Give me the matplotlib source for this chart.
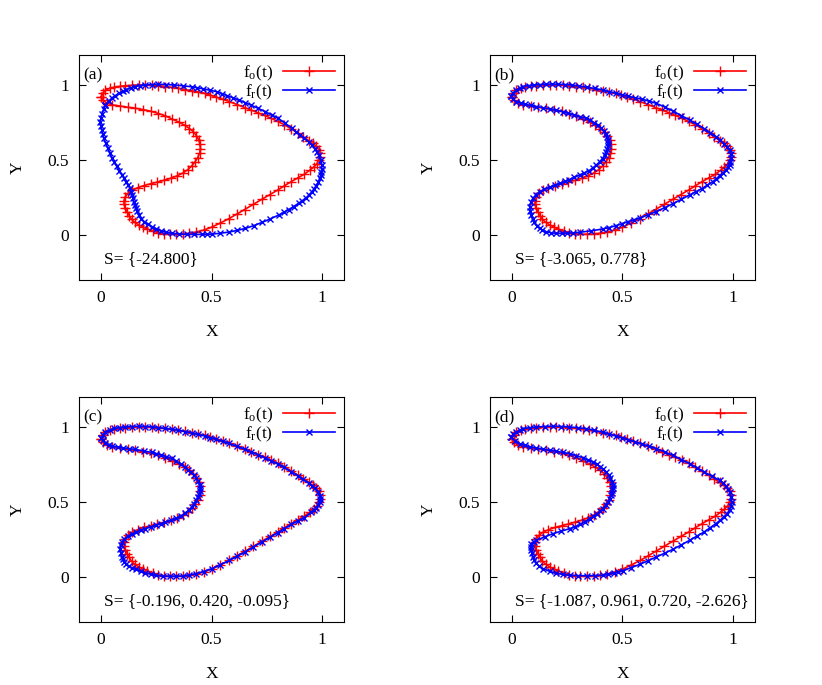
import matplotlib
matplotlib.use("Agg")
import matplotlib.pyplot as plt

plt.rcParams['font.family'] = ['Liberation Serif', 'DejaVu Serif']
plt.rcParams['mathtext.fontset'] = 'custom'
plt.rcParams['mathtext.rm'] = 'Liberation Serif'
plt.rcParams['mathtext.it'] = 'Liberation Serif:italic'

# original contour f_o(t), the same in every panel (x, y)
orig = [(0.000, 0.920), (0.008, 0.945), (0.020, 0.965), (0.040, 0.978), (0.060, 0.986),
        (0.085, 0.991), (0.110, 0.995), (0.140, 0.998), (0.170, 1.000), (0.200, 1.000),
        (0.230, 1.000), (0.260, 0.996), (0.290, 0.990), (0.320, 0.984), (0.350, 0.978),
        (0.380, 0.970), (0.410, 0.962), (0.440, 0.953), (0.470, 0.944), (0.495, 0.932),
        (0.520, 0.920), (0.550, 0.905), (0.580, 0.890), (0.615, 0.870), (0.650, 0.850),
        (0.680, 0.833), (0.710, 0.815), (0.740, 0.797), (0.770, 0.778), (0.800, 0.757),
        (0.830, 0.735), (0.860, 0.708), (0.890, 0.680), (0.915, 0.655), (0.940, 0.630),
        (0.958, 0.612), (0.972, 0.595), (0.985, 0.570), (0.992, 0.545), (0.990, 0.520),
        (0.985, 0.500), (0.977, 0.475), (0.962, 0.452), (0.945, 0.432), (0.920, 0.405),
        (0.890, 0.380), (0.860, 0.355), (0.830, 0.328), (0.800, 0.300), (0.765, 0.270),
        (0.730, 0.240), (0.690, 0.205), (0.650, 0.170), (0.615, 0.140), (0.580, 0.110),
        (0.540, 0.080), (0.500, 0.052), (0.465, 0.033), (0.430, 0.020), (0.400, 0.012),
        (0.370, 0.007), (0.340, 0.005), (0.310, 0.005), (0.285, 0.008), (0.260, 0.015),
        (0.235, 0.026), (0.210, 0.040), (0.190, 0.053), (0.170, 0.068), (0.152, 0.085),
        (0.138, 0.105), (0.127, 0.130), (0.118, 0.155), (0.110, 0.180), (0.104, 0.205),
        (0.104, 0.230), (0.110, 0.255), (0.122, 0.278), (0.140, 0.298), (0.165, 0.315),
        (0.195, 0.330), (0.225, 0.342), (0.255, 0.353), (0.285, 0.365), (0.315, 0.378),
        (0.345, 0.395), (0.370, 0.413), (0.392, 0.435), (0.410, 0.460), (0.425, 0.487),
        (0.437, 0.515), (0.446, 0.545), (0.450, 0.575), (0.448, 0.605), (0.442, 0.635),
        (0.432, 0.662), (0.418, 0.688), (0.400, 0.710), (0.378, 0.732), (0.352, 0.753),
        (0.322, 0.773), (0.290, 0.795), (0.260, 0.810), (0.225, 0.825), (0.190, 0.836),
        (0.155, 0.845), (0.120, 0.852), (0.085, 0.860), (0.050, 0.868), (0.025, 0.880),
        (0.008, 0.900), (0.000, 0.920)]

# reconstructed contours f_r(t), one per panel
rec_a = [(0.020, 0.867), (0.035, 0.893), (0.050, 0.915), (0.065, 0.930), (0.080, 0.944),
         (0.098, 0.958), (0.115, 0.970), (0.135, 0.981), (0.155, 0.990), (0.178, 0.996),
         (0.200, 1.000), (0.230, 1.003), (0.260, 1.005), (0.295, 1.003), (0.330, 1.000),
         (0.370, 0.995), (0.410, 0.988), (0.435, 0.982), (0.460, 0.975), (0.493, 0.965),
         (0.525, 0.955), (0.548, 0.943), (0.570, 0.930), (0.597, 0.915), (0.623, 0.900),
         (0.652, 0.883), (0.680, 0.865), (0.712, 0.844), (0.743, 0.822), (0.772, 0.801),
         (0.800, 0.780), (0.832, 0.746), (0.864, 0.711), (0.882, 0.690), (0.900, 0.670),
         (0.920, 0.646), (0.940, 0.622), (0.955, 0.598), (0.970, 0.575), (0.978, 0.554),
         (0.985, 0.533), (0.994, 0.500), (1.000, 0.467), (0.999, 0.443), (0.998, 0.420),
         (0.995, 0.399), (0.992, 0.378), (0.984, 0.354), (0.975, 0.330), (0.965, 0.310),
         (0.955, 0.289), (0.943, 0.270), (0.930, 0.250), (0.912, 0.230), (0.894, 0.211),
         (0.872, 0.190), (0.850, 0.170), (0.827, 0.151), (0.804, 0.133), (0.767, 0.108),
         (0.730, 0.085), (0.692, 0.063), (0.653, 0.044), (0.617, 0.031), (0.580, 0.020),
         (0.540, 0.012), (0.502, 0.006), (0.480, 0.005), (0.457, 0.004), (0.423, 0.004),
         (0.390, 0.004), (0.355, 0.007), (0.320, 0.011), (0.295, 0.019), (0.270, 0.030),
         (0.250, 0.042), (0.230, 0.056), (0.212, 0.072), (0.195, 0.090), (0.182, 0.110),
         (0.170, 0.133), (0.163, 0.157), (0.157, 0.180), (0.152, 0.200), (0.148, 0.222),
         (0.144, 0.246), (0.140, 0.270), (0.137, 0.290), (0.133, 0.311), (0.124, 0.333),
         (0.115, 0.355), (0.105, 0.378), (0.095, 0.400), (0.083, 0.430), (0.070, 0.460),
         (0.060, 0.485), (0.050, 0.511), (0.040, 0.545), (0.030, 0.580), (0.021, 0.612),
         (0.012, 0.644), (0.007, 0.672), (0.003, 0.700), (0.000, 0.727), (-0.003, 0.755),
         (0.000, 0.783), (0.005, 0.810), (0.012, 0.840), (0.020, 0.867)]

rec_b = [(-0.005, 0.925), (0.005, 0.948), (0.020, 0.965), (0.035, 0.980), (0.050, 0.990),
         (0.075, 0.996), (0.100, 1.000), (0.128, 1.003), (0.155, 1.005), (0.183, 1.006),
         (0.210, 1.005), (0.240, 1.003), (0.270, 1.000), (0.305, 0.993), (0.340, 0.985),
         (0.375, 0.977), (0.410, 0.967), (0.440, 0.956), (0.470, 0.945), (0.498, 0.935),
         (0.525, 0.925), (0.558, 0.915), (0.590, 0.905), (0.622, 0.892), (0.653, 0.878),
         (0.692, 0.853), (0.730, 0.825), (0.767, 0.796), (0.804, 0.767), (0.837, 0.738),
         (0.870, 0.710), (0.897, 0.683), (0.924, 0.656), (0.943, 0.633), (0.960, 0.610),
         (0.973, 0.589), (0.985, 0.567), (0.990, 0.540), (0.992, 0.511), (0.989, 0.490),
         (0.985, 0.470), (0.978, 0.451), (0.970, 0.433), (0.955, 0.414), (0.940, 0.395),
         (0.925, 0.375), (0.910, 0.356), (0.885, 0.333), (0.860, 0.310), (0.832, 0.288),
         (0.804, 0.267), (0.767, 0.238), (0.730, 0.210), (0.692, 0.183), (0.653, 0.156),
         (0.617, 0.135), (0.580, 0.115), (0.553, 0.102), (0.525, 0.089), (0.498, 0.075),
         (0.470, 0.062), (0.440, 0.050), (0.410, 0.040), (0.358, 0.028), (0.306, 0.018),
         (0.278, 0.014), (0.250, 0.012), (0.225, 0.011), (0.200, 0.011), (0.177, 0.015),
         (0.155, 0.022), (0.138, 0.032), (0.125, 0.044), (0.111, 0.063), (0.100, 0.085),
         (0.093, 0.109), (0.088, 0.133), (0.083, 0.161), (0.080, 0.189), (0.085, 0.217),
         (0.095, 0.244), (0.108, 0.268), (0.125, 0.289), (0.147, 0.304), (0.170, 0.318),
         (0.193, 0.331), (0.216, 0.344), (0.238, 0.357), (0.260, 0.370), (0.283, 0.385),
         (0.306, 0.400), (0.328, 0.415), (0.350, 0.430), (0.367, 0.448), (0.382, 0.467),
         (0.397, 0.488), (0.410, 0.510), (0.420, 0.533), (0.427, 0.556), (0.432, 0.576),
         (0.435, 0.595), (0.435, 0.614), (0.434, 0.633), (0.430, 0.654), (0.425, 0.675),
         (0.415, 0.693), (0.404, 0.711), (0.388, 0.731), (0.370, 0.750), (0.353, 0.764),
         (0.336, 0.778), (0.308, 0.789), (0.280, 0.800), (0.255, 0.811), (0.230, 0.822),
         (0.200, 0.831), (0.170, 0.840), (0.140, 0.848), (0.110, 0.856), (0.085, 0.864),
         (0.060, 0.872), (0.040, 0.880), (0.020, 0.889), (0.005, 0.905), (-0.005, 0.925)]

rec_c = [(0.000, 0.925), (0.008, 0.948), (0.020, 0.965), (0.040, 0.980), (0.060, 0.990),
         (0.085, 0.996), (0.110, 1.000), (0.140, 1.003), (0.170, 1.005), (0.200, 1.003),
         (0.230, 1.000), (0.260, 0.995), (0.290, 0.990), (0.320, 0.984), (0.350, 0.978),
         (0.380, 0.969), (0.410, 0.960), (0.440, 0.950), (0.470, 0.940), (0.495, 0.929),
         (0.520, 0.918), (0.550, 0.904), (0.580, 0.890), (0.615, 0.871), (0.650, 0.852),
         (0.680, 0.834), (0.710, 0.815), (0.740, 0.795), (0.770, 0.775), (0.800, 0.753),
         (0.830, 0.730), (0.860, 0.703), (0.890, 0.675), (0.915, 0.650), (0.940, 0.625),
         (0.957, 0.608), (0.970, 0.590), (0.982, 0.565), (0.990, 0.540), (0.992, 0.520),
         (0.990, 0.500), (0.983, 0.480), (0.975, 0.460), (0.963, 0.445), (0.950, 0.430),
         (0.920, 0.395), (0.890, 0.372), (0.860, 0.350), (0.830, 0.323), (0.800, 0.295),
         (0.765, 0.265), (0.730, 0.235), (0.690, 0.200), (0.650, 0.165), (0.615, 0.137),
         (0.580, 0.110), (0.540, 0.082), (0.500, 0.055), (0.465, 0.036), (0.430, 0.022),
         (0.400, 0.012), (0.370, 0.006), (0.340, 0.004), (0.310, 0.004), (0.280, 0.006),
         (0.250, 0.010), (0.225, 0.018), (0.200, 0.028), (0.180, 0.038), (0.160, 0.050),
         (0.140, 0.060), (0.125, 0.070), (0.113, 0.085), (0.105, 0.100), (0.099, 0.117),
         (0.095, 0.133), (0.090, 0.160), (0.087, 0.189), (0.089, 0.212), (0.095, 0.235),
         (0.106, 0.253), (0.120, 0.270), (0.140, 0.286), (0.160, 0.300), (0.180, 0.311),
         (0.200, 0.322), (0.225, 0.334), (0.250, 0.345), (0.270, 0.355), (0.290, 0.365),
         (0.315, 0.377), (0.340, 0.390), (0.362, 0.407), (0.380, 0.425), (0.396, 0.445),
         (0.410, 0.465), (0.421, 0.487), (0.430, 0.510), (0.438, 0.530), (0.445, 0.550),
         (0.448, 0.570), (0.450, 0.590), (0.446, 0.615), (0.440, 0.640), (0.431, 0.660),
         (0.420, 0.680), (0.408, 0.698), (0.395, 0.715), (0.378, 0.735), (0.360, 0.755),
         (0.340, 0.773), (0.320, 0.790), (0.295, 0.803), (0.270, 0.815), (0.250, 0.823),
         (0.230, 0.830), (0.193, 0.840), (0.155, 0.850), (0.128, 0.855), (0.100, 0.860),
         (0.075, 0.866), (0.050, 0.872), (0.035, 0.882), (0.020, 0.895), (0.008, 0.910),
         (0.000, 0.925)]

rec_d = [(-0.005, 0.930), (0.005, 0.950), (0.020, 0.965), (0.035, 0.978), (0.050, 0.989),
         (0.080, 0.995), (0.110, 1.000), (0.148, 1.003), (0.186, 1.005), (0.223, 1.003),
         (0.260, 1.000), (0.298, 0.995), (0.336, 0.989), (0.373, 0.977), (0.410, 0.965),
         (0.440, 0.953), (0.470, 0.940), (0.498, 0.928), (0.525, 0.915), (0.558, 0.900),
         (0.590, 0.885), (0.622, 0.871), (0.653, 0.856), (0.692, 0.833), (0.730, 0.810),
         (0.767, 0.783), (0.804, 0.756), (0.837, 0.728), (0.870, 0.700), (0.905, 0.672),
         (0.940, 0.644), (0.955, 0.625), (0.970, 0.605), (0.978, 0.586), (0.985, 0.567),
         (0.991, 0.533), (0.995, 0.500), (0.991, 0.472), (0.985, 0.444), (0.973, 0.422),
         (0.960, 0.400), (0.942, 0.378), (0.924, 0.356), (0.897, 0.328), (0.870, 0.300),
         (0.837, 0.272), (0.804, 0.244), (0.767, 0.214), (0.730, 0.185), (0.692, 0.159),
         (0.653, 0.133), (0.617, 0.109), (0.580, 0.085), (0.541, 0.063), (0.502, 0.042),
         (0.481, 0.033), (0.460, 0.025), (0.436, 0.017), (0.412, 0.011), (0.376, 0.009),
         (0.340, 0.008), (0.300, 0.009), (0.261, 0.011), (0.230, 0.017), (0.200, 0.025),
         (0.170, 0.038), (0.140, 0.056), (0.124, 0.072), (0.110, 0.090), (0.101, 0.110),
         (0.095, 0.133), (0.091, 0.157), (0.088, 0.180), (0.087, 0.200), (0.088, 0.222),
         (0.098, 0.235), (0.110, 0.244), (0.148, 0.267), (0.186, 0.289), (0.224, 0.306),
         (0.261, 0.322), (0.286, 0.335), (0.310, 0.350), (0.331, 0.369), (0.351, 0.389),
         (0.368, 0.404), (0.385, 0.420), (0.399, 0.438), (0.412, 0.456), (0.424, 0.478),
         (0.435, 0.500), (0.442, 0.522), (0.449, 0.544), (0.452, 0.562), (0.455, 0.580),
         (0.456, 0.596), (0.457, 0.611), (0.452, 0.636), (0.445, 0.660), (0.437, 0.680),
         (0.427, 0.700), (0.414, 0.718), (0.400, 0.735), (0.384, 0.751), (0.367, 0.767),
         (0.344, 0.781), (0.320, 0.795), (0.291, 0.809), (0.261, 0.822), (0.231, 0.830),
         (0.200, 0.838), (0.170, 0.845), (0.140, 0.851), (0.110, 0.860), (0.080, 0.868),
         (0.058, 0.878), (0.035, 0.889), (0.015, 0.908), (-0.005, 0.930)]

panel_tags = ['(a)', '(b)', '(c)', '(d)']
s_labels = ['S= {-24.800}', 'S= {-3.065, 0.778}', 'S= {-0.196, 0.420, -0.095}',
            'S= {-1.087, 0.961, 0.720, -2.626}']
recs = [rec_a, rec_b, rec_c, rec_d]

fig = plt.figure(figsize=(8.22, 6.85), dpi=100)
boxes = [(0.0961, 0.5912), (0.596, 0.5912), (0.0961, 0.0920), (0.596, 0.0920)]
w, h = 0.3224, 0.3285

ox = [p[0] for p in orig]
oy = [p[1] for p in orig]

for i in range(4):
    ax = fig.add_axes([boxes[i][0], boxes[i][1], w, h])
    rx = [p[0] for p in recs[i]]
    ry = [p[1] for p in recs[i]]
    ax.plot(ox, oy, color='#ff0000', lw=1.2, marker='+', ms=7, mew=1.0,
            label=r'f$_{\rm o}$(t)')
    ax.plot(rx, ry, color='#0000ff', lw=1.2, marker='x', ms=5, mew=1.0,
            label=r'f$_{\rm r}$(t)')
    ax.set_xlim(-0.1, 1.1)
    ax.set_ylim(-0.3, 1.2)
    ax.set_xticks([0, 0.5, 1])
    ax.set_xticklabels(['0', '0.5', '1'])
    ax.set_yticks([0, 0.5, 1])
    ax.set_yticklabels(['0', '0.5', '1'])
    ax.tick_params(direction='in', length=5, width=0.8, top=True, right=True,
                   labelsize=12.5, pad=7)
    for sp in ax.spines.values():
        sp.set_linewidth(0.8)
    ax.set_xlabel('X', fontsize=12.5, labelpad=13)
    ax.set_ylabel('Y', fontsize=12.5, labelpad=16)
    ax.text(0.015, 0.91, panel_tags[i], transform=ax.transAxes, fontsize=12.5,
            ha='left', va='center')
    ax.text(0.094, 0.093, s_labels[i], transform=ax.transAxes, fontsize=12.5,
            ha='left', va='center', clip_on=False)
    ax.legend(loc='upper right', frameon=False, markerfirst=False, fontsize=12.5,
              handlelength=3.0, handletextpad=0.6, labelspacing=0.0,
              borderaxespad=0.3, borderpad=0.2)

fig.savefig('out.png', dpi=100)
